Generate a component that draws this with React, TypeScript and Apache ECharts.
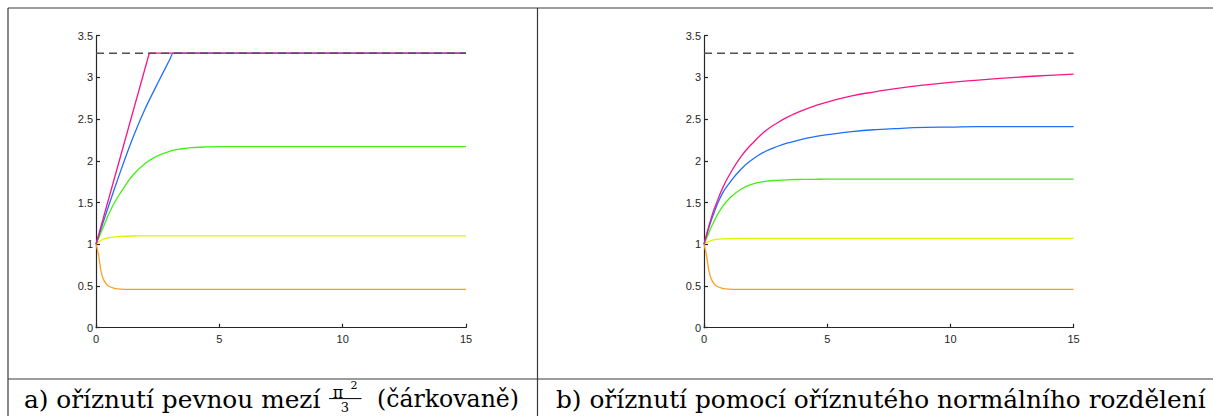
import React, { useEffect, useRef } from "react";
import * as echarts from "echarts";

// ---------- data ----------
const xTicks = [0, 5, 10, 15];
const yTickLabels = ["0", "0.5", "1", "1.5", "2", "2.5", "3", "3.5"];
const cutoffLine = [
  [0, 3.29],
  [15, 3.29],
];

// common sample positions
const xs = [0, 0.1, 0.2, 0.3, 0.4, 0.5, 0.75, 1, 1.5, 2, 2.5, 3, 3.5, 4, 4.5, 5, 6, 7, 8, 9, 10, 11, 12, 13, 14, 15];

// panel a) – hard cut-off at pi^2/3
const leftOrange = [1, 0.88, 0.68, 0.58, 0.53, 0.5, 0.472, 0.462, 0.46, 0.46, 0.46, 0.46, 0.46, 0.46, 0.46, 0.46, 0.46, 0.46, 0.46, 0.46, 0.46, 0.46, 0.46, 0.46, 0.46, 0.46];
const leftYellow = [1, 1.025, 1.045, 1.06, 1.07, 1.078, 1.089, 1.095, 1.099, 1.1, 1.1, 1.1, 1.1, 1.1, 1.1, 1.1, 1.1, 1.1, 1.1, 1.1, 1.1, 1.1, 1.1, 1.1, 1.1, 1.1];
const leftGreen = [1, 1.07, 1.14, 1.21, 1.28, 1.35, 1.5, 1.62, 1.83, 1.97, 2.06, 2.115, 2.145, 2.16, 2.167, 2.17, 2.17, 2.17, 2.17, 2.17, 2.17, 2.17, 2.17, 2.17, 2.17, 2.17];
const leftBlueX = [0, 0.5, 1, 1.5, 2, 2.5, 3, 3.13, 15];
const leftBlueY = [1, 1.45, 1.88, 2.28, 2.63, 2.93, 3.22, 3.29, 3.29];
const leftMagentaX = [0, 2.16, 15];
const leftMagentaY = [1, 3.29, 3.29];

// panel b) – truncated normal cut-off
const rightOrange = [1, 0.87, 0.68, 0.58, 0.53, 0.5, 0.472, 0.462, 0.46, 0.46, 0.46, 0.46, 0.46, 0.46, 0.46, 0.46, 0.46, 0.46, 0.46, 0.46, 0.46, 0.46, 0.46, 0.46, 0.46, 0.46];
const rightYellow = [1, 1.02, 1.035, 1.045, 1.053, 1.058, 1.065, 1.068, 1.07, 1.07, 1.07, 1.07, 1.07, 1.07, 1.07, 1.07, 1.07, 1.07, 1.07, 1.07, 1.07, 1.07, 1.07, 1.07, 1.07, 1.07];
const rightGreen = [1, 1.07, 1.14, 1.21, 1.27, 1.33, 1.45, 1.54, 1.66, 1.725, 1.753, 1.767, 1.774, 1.777, 1.779, 1.78, 1.78, 1.78, 1.78, 1.78, 1.78, 1.78, 1.78, 1.78, 1.78, 1.78];
const rightBlue = [1, 1.1, 1.2, 1.29, 1.37, 1.45, 1.61, 1.72, 1.9, 2.025, 2.115, 2.175, 2.222, 2.26, 2.29, 2.313, 2.35, 2.375, 2.39, 2.4, 2.405, 2.41, 2.41, 2.41, 2.41, 2.41];
const rightMagenta = [1, 1.115, 1.22, 1.32, 1.41, 1.49, 1.67, 1.815, 2.05, 2.22, 2.36, 2.46, 2.54, 2.605, 2.66, 2.705, 2.78, 2.83, 2.875, 2.91, 2.94, 2.965, 2.988, 3.008, 3.025, 3.04];

const captionA1 = "a) oříznutí pevnou mezí";
const captionA2 = "(čárkovaně)";
const captionB = "b) oříznutí pomocí oříznutého normálního rozdělení";

// ---------- styling ----------
const C = {
  magenta: "#f7168a",
  blue: "#1f6fff",
  green: "#44ee12",
  yellow: "#d8f50a",
  orange: "#ff9f1f",
  dash: "#505050",
  axis: "#262626",
  frame: "#3a3a3a",
};

const pairs = (xv: number[], ys: number[]) => xv.map((x, i) => [x, ys[i]]);

function lineSeries(data: number[][], color: string, idx: number, z = 2, smooth: number | boolean = 0.5) {
  return {
    type: "line",
    xAxisIndex: idx,
    yAxisIndex: idx,
    data,
    showSymbol: false,
    symbol: "none",
    smooth,
    lineStyle: { color, width: 1.3 },
    z,
    silent: true,
  };
}

function dashSeries(idx: number) {
  return {
    type: "line",
    xAxisIndex: idx,
    yAxisIndex: idx,
    data: cutoffLine,
    showSymbol: false,
    symbol: "none",
    lineStyle: { color: C.dash, width: 1.4, type: [8, 5] },
    z: 5,
    silent: true,
  };
}

const axisFont = { fontFamily: "Liberation Sans, Arial, sans-serif", fontSize: 11, color: C.axis };

function xAxis(idx: number) {
  return {
    type: "value",
    gridIndex: idx,
    min: 0,
    max: 15,
    interval: 5,
    axisLine: { show: true, onZero: false, lineStyle: { color: C.axis, width: 1.2 } },
    axisTick: { show: true, inside: true, length: 4, lineStyle: { color: C.axis, width: 1.2 } },
    axisLabel: { ...axisFont, margin: 6, formatter: (v: number) => (xTicks.includes(v) ? String(v) : "") },
    splitLine: { show: false },
  };
}

function yAxis(idx: number) {
  return {
    type: "value",
    gridIndex: idx,
    min: 0,
    max: 3.5,
    interval: 0.5,
    axisLine: { show: true, lineStyle: { color: C.axis, width: 1.2 } },
    axisTick: { show: true, inside: true, length: 4, lineStyle: { color: C.axis, width: 1.2 } },
    axisLabel: { ...axisFont, margin: 3, formatter: (_v: number, i: number) => yTickLabels[i] ?? "" },
    splitLine: { show: false },
  };
}

const serif = "DejaVu Serif";

function captionText(text: string, x: number, y: number, size: number, align = "left") {
  return {
    type: "text",
    x,
    y,
    silent: true,
    style: { text, fontFamily: serif, fontSize: size, fill: "#000", align, verticalAlign: "middle" },
  };
}

const option = {
  animation: false,
  backgroundColor: "#ffffff",
  grid: [
    { left: 96, top: 35.7, width: 370, height: 292 },
    { left: 704, top: 35.7, width: 369.6, height: 292 },
  ],
  xAxis: [xAxis(0), xAxis(1)],
  yAxis: [yAxis(0), yAxis(1)],
  series: [
    lineSeries(pairs(xs, leftOrange), C.orange, 0, 2, 0.3),
    lineSeries(pairs(xs, leftYellow), C.yellow, 0, 2, 0.3),
    lineSeries(pairs(xs, leftGreen), C.green, 0),
    lineSeries(pairs(leftBlueX, leftBlueY), C.blue, 0, 3, 0.2),
    lineSeries(pairs(leftMagentaX, leftMagentaY), C.magenta, 0, 4, false),
    dashSeries(0),
    lineSeries(pairs(xs, rightOrange), C.orange, 1, 2, 0.3),
    lineSeries(pairs(xs, rightYellow), C.yellow, 1, 2, 0.3),
    lineSeries(pairs(xs, rightGreen), C.green, 1),
    lineSeries(pairs(xs, rightBlue), C.blue, 1, 3),
    lineSeries(pairs(xs, rightMagenta), C.magenta, 1, 4),
    dashSeries(1),
  ],
  graphic: [
    // table frame
    { type: "line", shape: { x1: 8, y1: 8, x2: 1213, y2: 8 }, style: { stroke: C.frame, lineWidth: 1.2 }, silent: true },
    { type: "line", shape: { x1: 8, y1: 379, x2: 1213, y2: 379 }, style: { stroke: C.frame, lineWidth: 1.2 }, silent: true },
    { type: "line", shape: { x1: 8, y1: 8, x2: 8, y2: 416 }, style: { stroke: C.frame, lineWidth: 1.2 }, silent: true },
    { type: "line", shape: { x1: 537.5, y1: 8, x2: 537.5, y2: 416 }, style: { stroke: C.frame, lineWidth: 1.2 }, silent: true },
    // captions
    captionText(captionA1, 24, 399, 24.8),
    captionText("π", 338, 392, 16, "center"),
    captionText("2", 354, 385, 11, "center"),
    { type: "line", shape: { x1: 329, y1: 398.6, x2: 361.5, y2: 398.6 }, style: { stroke: "#000", lineWidth: 1 }, silent: true },
    captionText("3", 345, 407.5, 13, "center"),
    captionText(captionA2, 377, 399, 23.6),
    captionText(captionB, 556, 399, 24.8),
  ],
};

export default function App() {
  const ref = useRef<HTMLDivElement>(null);
  useEffect(() => {
    if (!ref.current) return;
    const chart = echarts.init(ref.current, null, { renderer: "svg" });
    chart.setOption(option as any);
    return () => chart.dispose();
  }, []);
  return (
    <div
      ref={ref}
      style={{ position: "absolute", left: 0, top: 0, width: 1213, height: 416, background: "#fff" }}
    />
  );
}
